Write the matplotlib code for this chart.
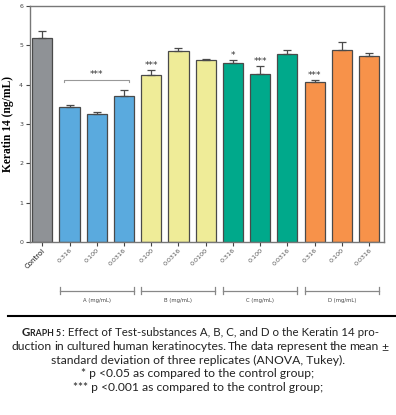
import matplotlib
matplotlib.use("Agg")
import matplotlib.pyplot as plt
import matplotlib.transforms as mtransforms
from matplotlib.lines import Line2D
import numpy as np

# data
tick_labels = ["Control",
               "0.316", "0.100", "0.0316",
               "0.100", "0.0316", "0.0100",
               "0.316", "0.100", "0.0316",
               "0.316", "0.100", "0.0316"]
means = [5.18,
         3.44, 3.25, 3.71,
         4.24, 4.86, 4.63,
         4.56, 4.27, 4.78,
         4.06, 4.89, 4.73]
errors = [0.18,
          0.03, 0.05, 0.16,
          0.12, 0.07, 0.01,
          0.07, 0.21, 0.09,
          0.06, 0.20, 0.07]
groups = ["A (mg/mL)", "B (mg/mL)", "C (mg/mL)", "D (mg/mL)"]
group_colors = ["#5aaade", "#efec98", "#00a98b", "#f7924a"]
control_color = "#8f9296"
stars = {4: "***", 7: "*", 8: "***", 10: "***"}

colors = [control_color] + [c for c in group_colors for _ in range(3)]
x = np.arange(len(means))

fig = plt.figure(figsize=(3.96, 4.15), dpi=100)
ax = fig.add_axes([0.0758, 0.4169, 0.894, 0.5687])

ax.bar(x, means, width=0.74, color=colors, edgecolor="#4a4a4a", linewidth=0.9, zorder=2)
ax.errorbar(x, means, yerr=[np.zeros(len(errors)), errors], fmt="none",
            ecolor="#4a4a4a", elinewidth=0.9, capsize=3, capthick=0.9, zorder=3)

ax.set_xlim(-0.45, 12.55)
ax.set_ylim(0, 6)
ax.set_yticks(range(7))
ax.tick_params(axis="y", labelsize=4.5, length=3, width=0.8, colors="#444444", pad=2)
ax.tick_params(axis="x", length=3, width=0.8, colors="#444444", pad=1)
ax.set_xticks(x)
ax.set_xticklabels(tick_labels, rotation=45, ha="right", rotation_mode="anchor", fontsize=4.6)
for i, lab in enumerate(ax.get_xticklabels()):
    lab.set_color("#111111" if i == 0 else "#555555")
    if i == 0:
        lab.set_fontsize(5)
for s in ax.spines.values():
    s.set_color("#777777")
    s.set_linewidth(1.0)

ax.set_ylabel("Keratin 14 (ng/mL)", family="Liberation Serif", fontweight="bold",
              fontsize=8.3, labelpad=4)

# significance stars
for i, s in stars.items():
    ax.text(x[i], means[i] + errors[i] + 0.0, s, ha="center", va="bottom",
            fontsize=6.5, color="#333333")

# bracket over group A
ax.plot([0.8, 0.8, 3.2, 3.2], [4.07, 4.12, 4.12, 4.07], color="#999999", lw=0.8)
ax.text(2, 4.15, "***", ha="center", va="bottom", fontsize=6.5, color="#333333")

# group brackets under the axis
trans = mtransforms.blended_transform_factory(ax.transData, ax.transAxes)
for k, g in enumerate(groups):
    c = 2 + 3 * k
    left, right = c - 1.36, c + 1.36
    ax.add_line(Line2D([left, right], [-0.206, -0.206], transform=trans,
                       color="#888888", lw=0.9, clip_on=False))
    for xe in (left, right):
        ax.add_line(Line2D([xe, xe], [-0.19, -0.222], transform=trans,
                           color="#888888", lw=0.9, clip_on=False))
    ax.text(c, -0.25, g, transform=trans, ha="center", va="center",
            fontsize=3.8, color="#444444")

# caption
fig.add_artist(Line2D([0.02, 1.0], [0.2386, 0.2386], transform=fig.transFigure,
                      color="black", lw=1.5))
cap_font = "Lato"
cap_size = 8.3
t1 = fig.text(22 / 396, 0.2, "G", fontsize=cap_size, family=cap_font, fontweight="bold",
              ha="left", va="center", color="#222222")
t2 = fig.add_artist(plt.Annotation("RAPH 5", xy=(1, 0), xycoords=t1, fontsize=cap_size * 0.76,
                                   family=cap_font, fontweight="bold", color="#222222",
                                   va="bottom", ha="left"))
fig.add_artist(plt.Annotation(": Effect of Test-substances A, B, C, and D o the Keratin 14 pro-",
                              xy=(1, 0), xycoords=t2, fontsize=cap_size, family=cap_font,
                              color="#222222", va="bottom", ha="left"))

# second line is justified across the width, like in the source layout
line2 = "duction in cultured human keratinocytes. The data represent the mean \u00b1"
x0, x1 = 12 / 396, 388 / 396
fig.canvas.draw()
renderer = fig.canvas.get_renderer()
words = []
for w in line2.split():
    t = fig.text(0, 0.164, w, fontsize=8.7, family=cap_font, ha="left", va="center",
                 color="#222222")
    words.append((t, t.get_window_extent(renderer).width / fig.bbox.width))
gap = (x1 - x0 - sum(wd for _, wd in words)) / (len(words) - 1)
pos = x0
for t, wd in words:
    t.set_x(pos)
    pos += wd + gap

caption_lines = [
    "standard deviation of three replicates (ANOVA, Tukey).",
    "* p <0.05 as compared to the control group;",
    "*** p <0.001 as compared to the control group;",
]
for j, line in enumerate(caption_lines):
    fig.text(0.5, 0.1315 - j * 0.0325, line, fontsize=8.7, family=cap_font,
             ha="center", va="center", color="#222222")

fig.savefig("out.png", dpi=100)
